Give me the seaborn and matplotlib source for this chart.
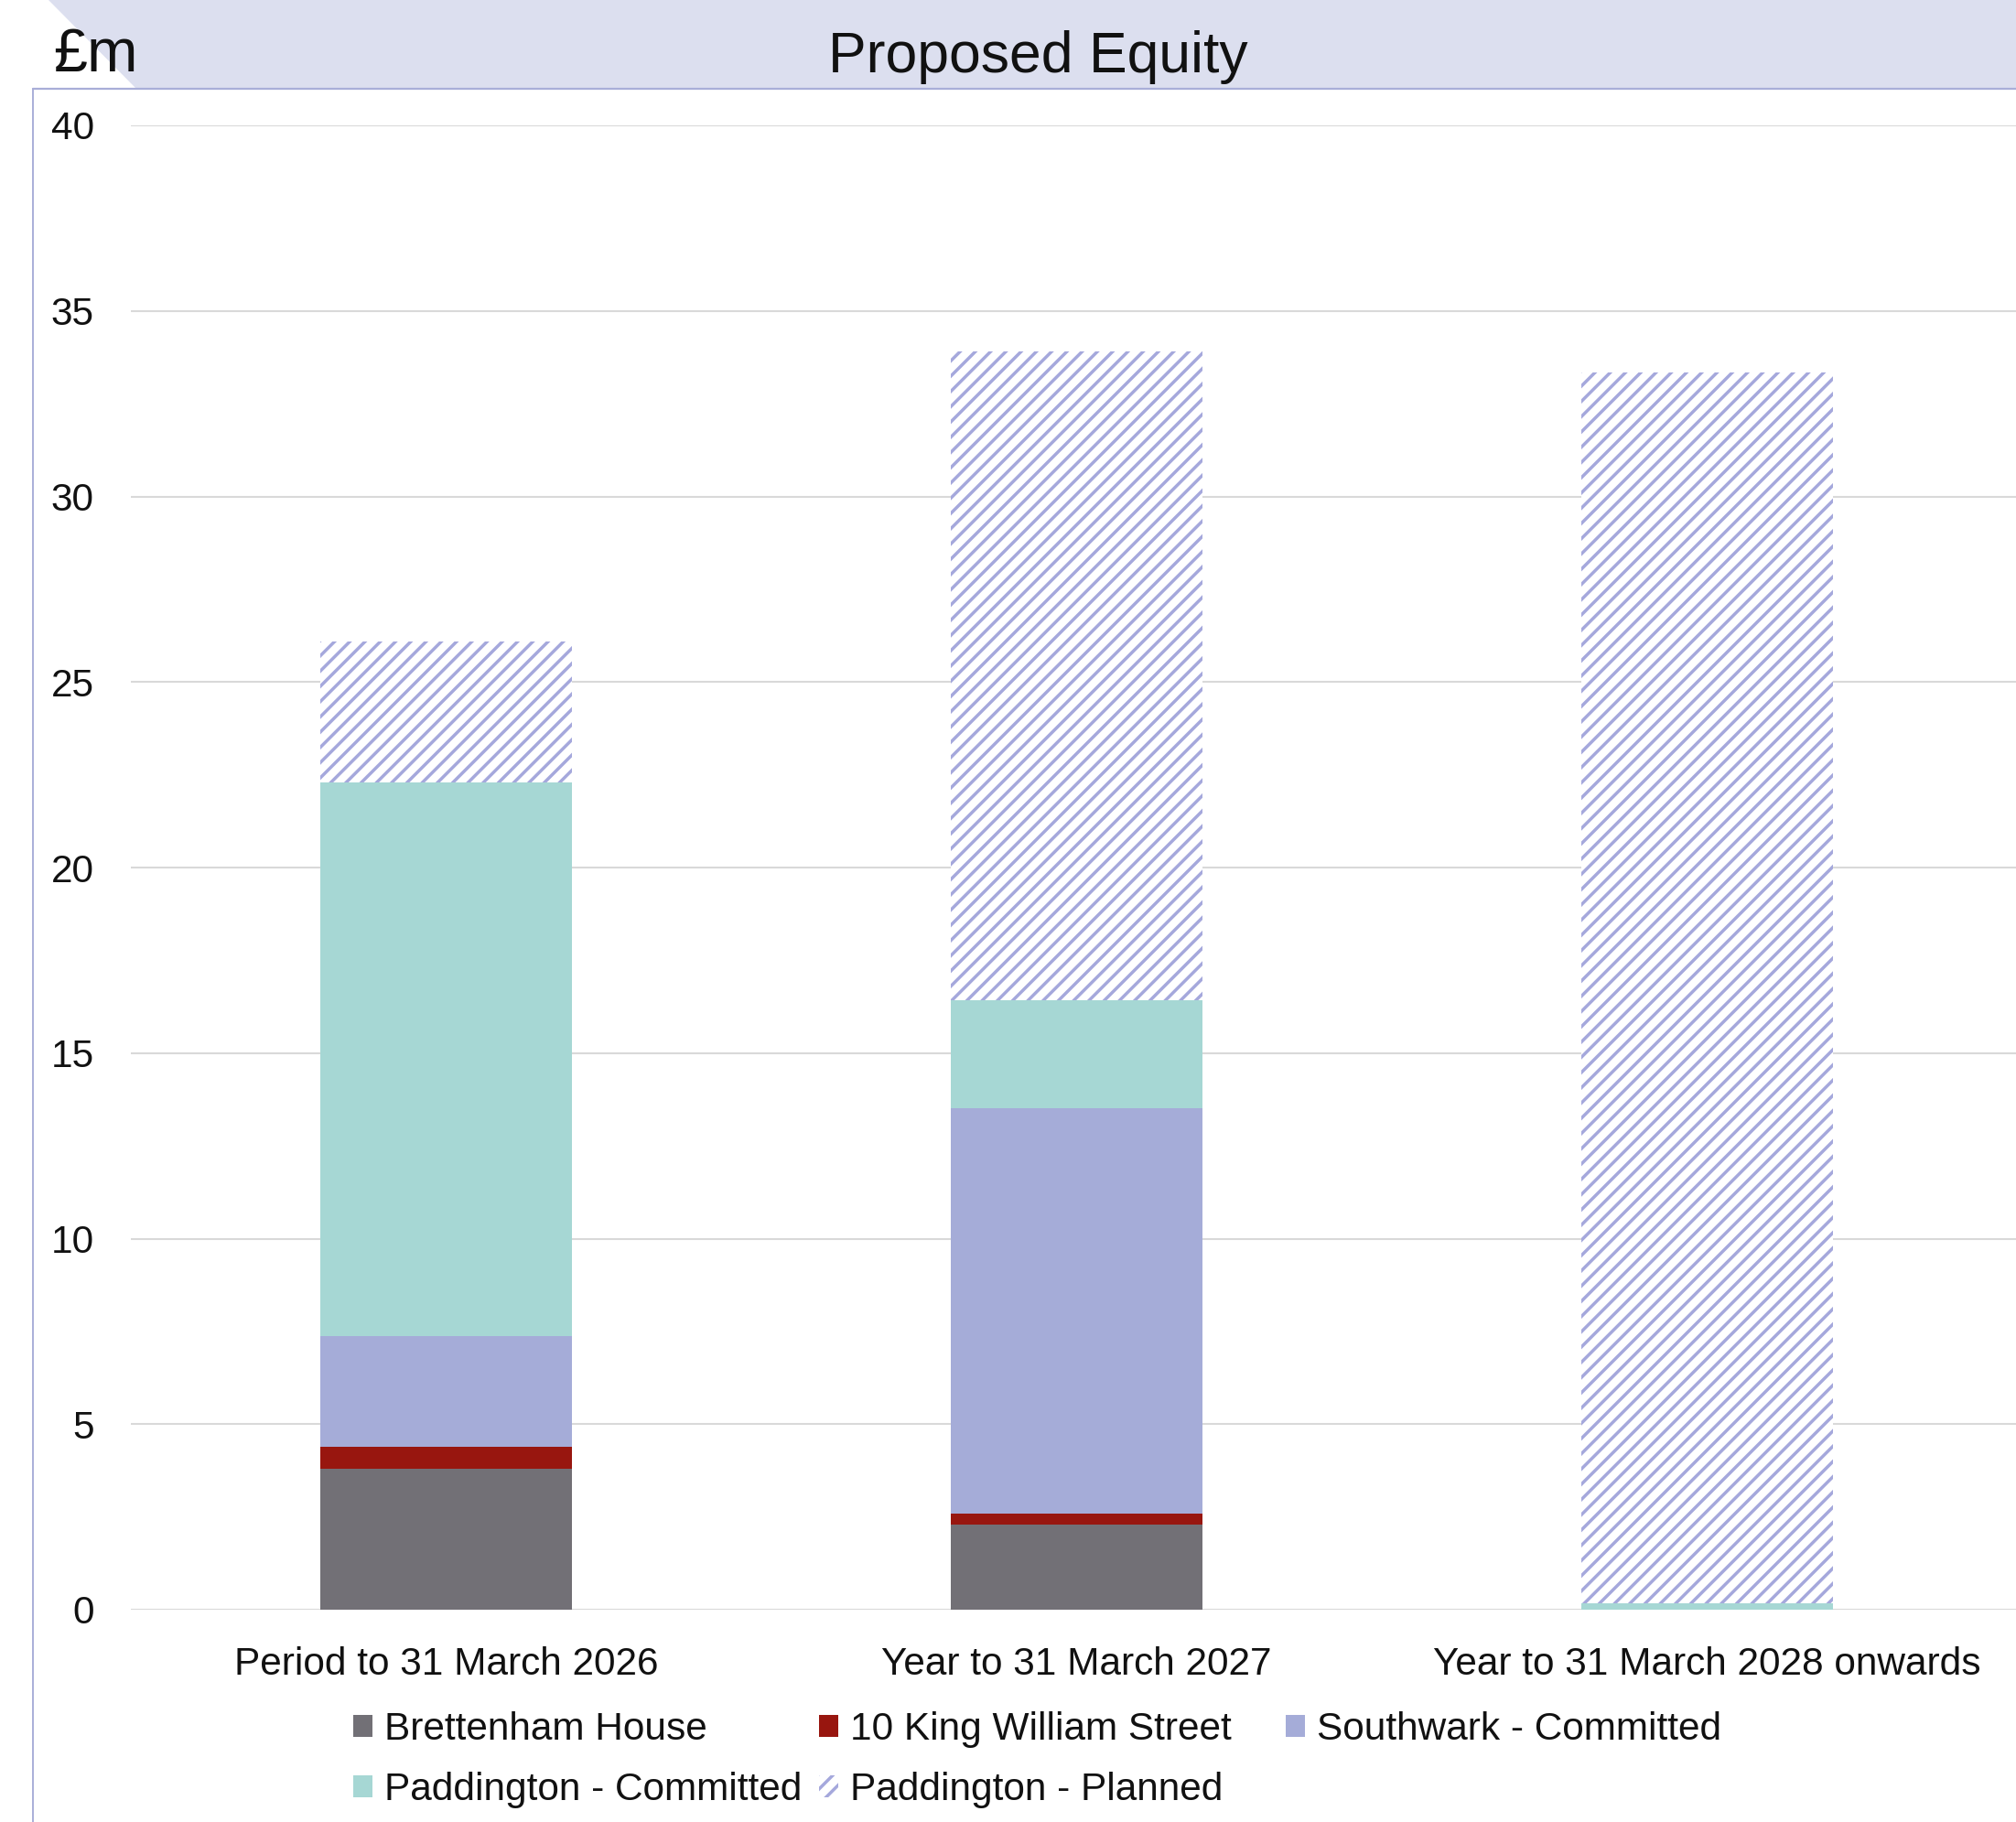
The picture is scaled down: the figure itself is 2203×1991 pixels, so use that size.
import numpy as np
import matplotlib
matplotlib.use("Agg")
import matplotlib.pyplot as plt
from matplotlib.patches import Patch, Polygon
from matplotlib.lines import Line2D
import seaborn as sns

# Proposed equity by period (£m), one list per funding line
periods = ["Period to 31 March 2026", "Year to 31 March 2027", "Year to 31 March 2028 onwards"]
brettenham_house = [3.80, 2.29, 0.0]
king_william_street = [0.59, 0.30, 0.0]
southwark_committed = [2.98, 10.92, 0.0]
paddington_committed = [14.92, 2.91, 0.18]
paddington_planned = [3.81, 17.49, 33.15]

series_labels = ["Brettenham House", "10 King William Street", "Southwark - Committed",
                 "Paddington - Committed", "Paddington - Planned"]
series_colors = ["#727076", "#98160F", "#A5ACD8", "#A6D7D4", "#A5A8DC"]
y_ticks = [0, 5, 10, 15, 20, 25, 30, 35, 40]

W, H = 2203, 1991
sns.set_theme(style="white")
plt.rcParams["font.family"] = ["Liberation Sans", "DejaVu Sans"]
plt.rcParams["hatch.linewidth"] = 2.5

fig = plt.figure(figsize=(W / 100, H / 100), dpi=100)
ax = fig.add_axes([143 / W, 1 - 1759 / H, (2210 - 143) / W, (1759 - 137) / H])

values = np.array([brettenham_house, king_william_street, southwark_committed,
                   paddington_committed, paddington_planned])
tops = np.cumsum(values, axis=0)

# Stacked bars: draw cumulative totals from the top segment down
for i in range(len(series_labels) - 1, -1, -1):
    if i == 4:
        sns.barplot(x=periods, y=tops[i], order=periods, color="white", saturation=1,
                    width=0.4, errorbar=None, ax=ax, hatch="//",
                    edgecolor=series_colors[i], linewidth=0)
    else:
        sns.barplot(x=periods, y=tops[i], order=periods, color=series_colors[i],
                    saturation=1, width=0.4, errorbar=None, ax=ax, linewidth=0)

ax.set_ylim(0, 40)
ax.set_xlim(-0.5, 2.5)
ax.set_yticks(y_ticks)
ax.set_yticklabels([str(t) for t in y_ticks])
ax.grid(axis="y", color="#D9D9D9", linewidth=1.5)
ax.set_axisbelow(True)
for s in ax.spines.values():
    s.set_visible(False)
ax.tick_params(axis="x", labelsize=30.5, pad=29, length=0, colors="#111111")
ax.tick_params(axis="y", labelsize=30.5, pad=29, length=0, colors="#111111")
ax.set_xlabel("")
ax.set_ylabel("")

# Header band and frame
band = Polygon([(53 / W, 1.0), (1.0, 1.0), (1.0, 1 - 97 / H), (149 / W, 1 - 97 / H)],
               closed=True, transform=fig.transFigure, facecolor="#DCDFEF",
               edgecolor="none", zorder=0)
fig.patches.append(band)
fig.lines.append(Line2D([36 / W, 1.0], [1 - 97 / H, 1 - 97 / H], transform=fig.transFigure,
                        color="#A9AED8", linewidth=1.6))
fig.lines.append(Line2D([36 / W, 36 / W], [1 - 97 / H, 0.0], transform=fig.transFigure,
                        color="#A9AED8", linewidth=1.4))

fig.text(1134 / W, 1 - 56 / H, "Proposed Equity", ha="center", va="center_baseline",
         fontsize=45, color="#111111")
fig.text(58 / W, 1 - 54 / H, "£m", ha="left", va="center_baseline", fontsize=48,
         color="#111111")

# Legend laid out as three evenly spaced columns
handles = [Patch(facecolor=c, edgecolor="none") for c in series_colors[:4]]
handles.append(Patch(facecolor="white", edgecolor=series_colors[4], hatch="//", linewidth=0))
columns = [[0, 3], [1, 4], [2]]
col_x = [386, 895, 1405]
for cx, idx in zip(col_x, columns):
    leg = fig.legend([handles[k] for k in idx], [series_labels[k] for k in idx],
                     loc="upper left", bbox_to_anchor=(cx / W, 1 - 1870 / H),
                     frameon=False, fontsize=30.5, handlelength=0.5, handleheight=0.5,
                     handletextpad=0.3, borderpad=0, borderaxespad=0, labelspacing=0.62)
    for t in leg.get_texts():
        t.set_color("#111111")

fig.savefig("out.png", dpi=100)
